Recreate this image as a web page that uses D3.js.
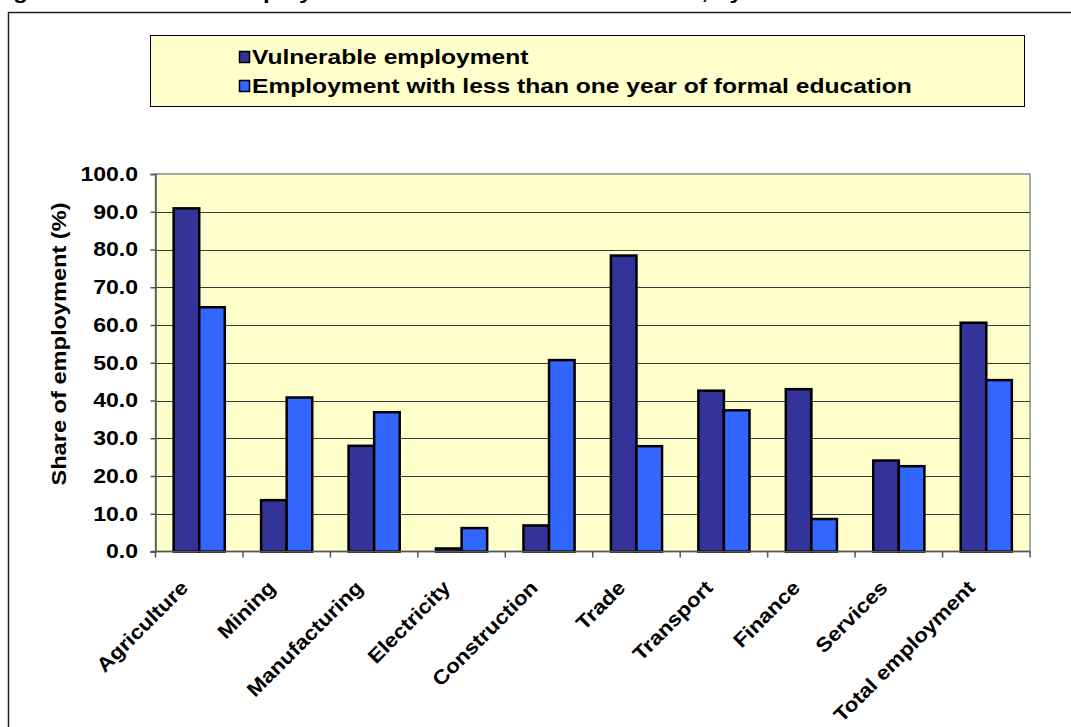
<!DOCTYPE html>
<html>
<head>
<meta charset="utf-8">
<script src="https://cdn.jsdelivr.net/npm/d3@7"></script>
<style>
  body { margin: 0; background: #fff; }
  svg text { font-family: Arial, "Liberation Sans", sans-serif; font-weight: bold; fill: #000; }
</style>
</head>
<body>
<div id="chart_area"></div>
<script>
var categories = ["Agriculture", "Mining", "Manufacturing", "Electricity", "Construction",
    "Trade", "Transport", "Finance", "Services", "Total employment"];
var vulnerable = [90.9, 13.6, 28.0, 0.8, 6.9, 78.4, 42.6, 43.0, 24.1, 60.6];
var lowEducation = [64.7, 40.8, 36.9, 6.2, 50.7, 27.9, 37.4, 8.6, 22.6, 45.4];
var seriesNames = ["Vulnerable employment", "Employment with less than one year of formal education"];
var seriesColors = ["#333399", "#3366FF"];
var yTicks = [0, 10, 20, 30, 40, 50, 60, 70, 80, 90, 100];

var width = 1071, height = 727;
var plot = { left: 155.5, right: 1030, top: 174, bottom: 551.5 };
// the original text is drawn wider than Arial, so stretch it along the baseline
var wide = 1.2;

var svg = d3.select("#chart_area")
    .append("svg")
    .attr("width", width)
    .attr("height", height);

// cut-off title line at the very top
svg.append("text")
    .attr("transform", "translate(-8,-1) scale(" + wide + ",1)")
    .style("font-size", "20px")
    .text("Figure 2: Vulnerable employment and lack of formal education, by sector");

// outer frame (runs off the page on the right and bottom)
svg.append("rect")
    .attr("x", 8.5).attr("y", 12.5)
    .attr("width", 1100).attr("height", 760)
    .style("fill", "none")
    .style("stroke", "#222")
    .style("stroke-width", 1.5);

// legend
var legend = svg.append("g").attr("class", "legend");
legend.append("rect")
    .attr("x", 150.5).attr("y", 35.5)
    .attr("width", 874).attr("height", 71)
    .style("fill", "#FFFFCC")
    .style("stroke", "#000")
    .style("stroke-width", 1);

var rowY = d3.scalePoint().domain(seriesNames).range([57, 86]);
var items = legend.selectAll("g.item")
    .data(seriesNames)
    .enter().append("g")
    .attr("class", "item");
items.append("rect")
    .attr("x", 239.5)
    .attr("y", function (d) { return rowY(d) - 5.5; })
    .attr("width", 10).attr("height", 11)
    .style("fill", function (d, i) { return seriesColors[i]; })
    .style("stroke", "#000")
    .style("stroke-width", 1.5);
items.append("text")
    .attr("transform", function (d) { return "translate(252," + (rowY(d) + 7) + ") scale(1.23,1)"; })
    .style("font-size", "20px")
    .text(function (d) { return d; });

// scales
var x = d3.scaleBand()
    .domain(categories)
    .range([plot.left, plot.right])
    .paddingInner(0).paddingOuter(0);
var xSub = d3.scaleBand()
    .domain([0, 1])
    .range([0, x.bandwidth()])
    .paddingInner(0).paddingOuter(0.71);
var y = d3.scaleLinear()
    .domain([0, 100])
    .range([plot.bottom, plot.top]);

// plot background
svg.append("rect")
    .attr("x", plot.left).attr("y", plot.top)
    .attr("width", plot.right - plot.left)
    .attr("height", plot.bottom - plot.top)
    .style("fill", "#FFFFCC")
    .style("stroke", "#8c8c8c")
    .style("stroke-width", 1.5);

// gridlines
svg.append("g")
    .attr("class", "grid")
    .selectAll("line")
    .data(yTicks.filter(function (d) { return d > 0 && d < 100; }))
    .enter().append("line")
    .attr("x1", plot.left).attr("x2", plot.right)
    .attr("y1", function (d) { return Math.round(y(d)) + 0.5; })
    .attr("y2", function (d) { return Math.round(y(d)) + 0.5; })
    .style("stroke", "#3a3a3a")
    .style("stroke-width", 1);

// bars
var seriesData = [vulnerable, lowEducation];
var groups = svg.append("g")
    .attr("class", "bars")
    .selectAll("g")
    .data(seriesData)
    .enter().append("g")
    .style("fill", function (d, i) { return seriesColors[i]; });
groups.selectAll("rect")
    .data(function (d, s) { return d.map(function (v, i) { return { cat: categories[i], value: v, s: s }; }); })
    .enter().append("rect")
    .attr("x", function (d) { return x(d.cat) + xSub(d.s); })
    .attr("y", function (d) { return y(d.value); })
    .attr("width", xSub.bandwidth())
    .attr("height", function (d) { return y(0) - y(d.value); })
    .style("stroke", "#000")
    .style("stroke-width", 2.5);

// y axis
var yAxis = svg.append("g")
    .attr("class", "y-axis")
    .attr("transform", "translate(" + plot.left + ",0)")
    .call(d3.axisLeft(y).tickValues(yTicks).tickFormat(d3.format(".1f")).tickSize(5).tickPadding(10.2));
yAxis.select(".domain").style("stroke", "#555").style("stroke-width", 1.5);
yAxis.selectAll(".tick line").style("stroke", "#555").style("stroke-width", 1.5);
yAxis.selectAll("text")
    .attr("transform", "scale(1.15,1)")
    .style("font-size", "20px");

// x axis: ticks at category boundaries
var xAxis = svg.append("g").attr("class", "x-axis");
xAxis.append("line")
    .attr("x1", plot.left - 5).attr("x2", plot.right)
    .attr("y1", plot.bottom).attr("y2", plot.bottom)
    .style("stroke", "#555").style("stroke-width", 1.5);
xAxis.selectAll("line.tick")
    .data(d3.range(categories.length + 1))
    .enter().append("line")
    .attr("class", "tick")
    .attr("x1", function (i) { return plot.left + i * x.step(); })
    .attr("x2", function (i) { return plot.left + i * x.step(); })
    .attr("y1", plot.bottom).attr("y2", plot.bottom + 6)
    .style("stroke", "#555").style("stroke-width", 1.5);
xAxis.selectAll("text")
    .data(categories)
    .enter().append("text")
    .attr("transform", function (d) {
        return "translate(" + (x(d) + x.bandwidth() / 2 - 10) + "," + 589 + ") rotate(-45) scale(1.12,1)";
    })
    .attr("text-anchor", "end")
    .style("font-size", "20px")
    .text(function (d) { return d; });

// y axis title
svg.append("text")
    .attr("transform", "translate(66,344) rotate(-90) scale(1.18,1)")
    .attr("text-anchor", "middle")
    .style("font-size", "20px")
    .text("Share of employment (%)");
</script>
</body>
</html>
